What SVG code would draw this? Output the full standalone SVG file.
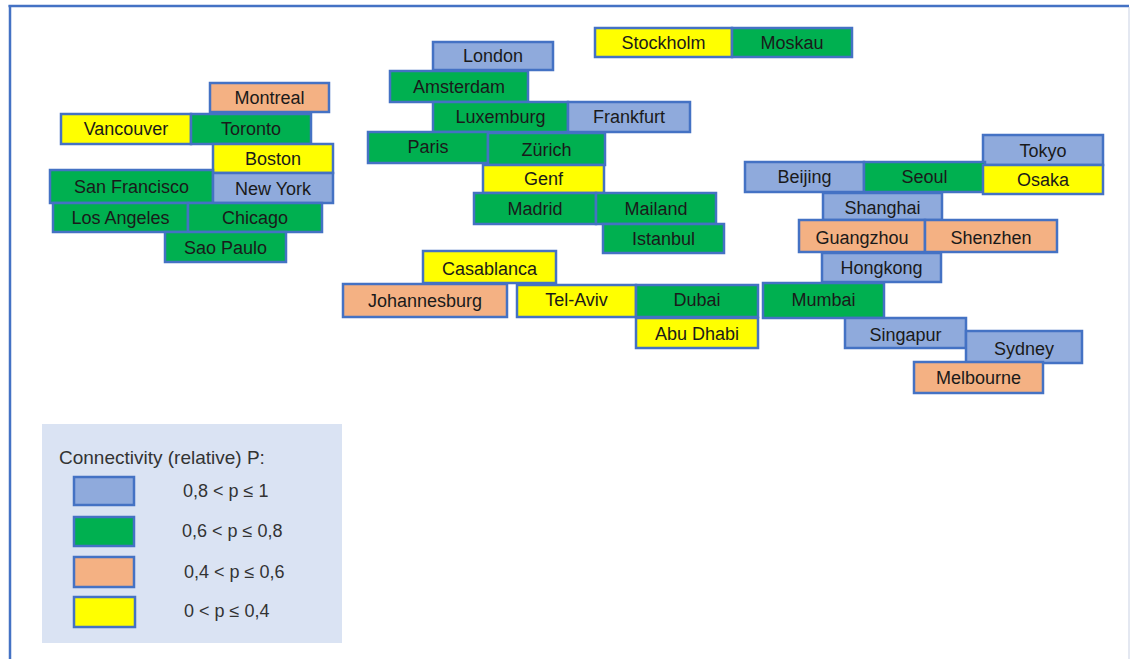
<svg xmlns="http://www.w3.org/2000/svg" width="1130" height="659" viewBox="0 0 1130 659">
  <style>
    .box { stroke: #4472c4; stroke-width: 2.5; }
    .b { fill: #8faadc; }
    .g { fill: #00b050; }
    .o { fill: #f4b183; }
    .y { fill: #ffff00; }
    text { font-family: "Liberation Sans", Arial, sans-serif; font-size: 18px; fill: #1a1a1a; }
    .c { text-anchor: middle; }
    .lg { fill: #333; }
    .lt { font-size: 19px; }
  </style>

  <rect x="0" y="0" width="1130" height="659" fill="#ffffff"/>

  <!-- frame -->
  <g id="frame">
    <line x1="8.5" y1="6" x2="1129" y2="6" stroke="#4472c4" stroke-width="2.5"/>
    <line x1="10" y1="5" x2="10" y2="659" stroke="#4472c4" stroke-width="2.5"/>
    <line x1="1129" y1="7" x2="1129" y2="659" stroke="#c9d1e3" stroke-width="1"/>
  </g>

  <!-- North America -->
  <g id="montreal"><rect class="box o" x="210" y="83" width="119" height="29"/><text class="c" x="269.5" y="104">Montreal</text></g>
  <g id="vancouver"><rect class="box y" x="61" y="114" width="130" height="30"/><text class="c" x="126" y="135">Vancouver</text></g>
  <g id="toronto"><rect class="box g" x="191" y="114" width="120" height="30"/><text class="c" x="251" y="135">Toronto</text></g>
  <g id="boston"><rect class="box y" x="213" y="144" width="120" height="29"/><text class="c" x="273" y="165">Boston</text></g>
  <g id="san-francisco"><rect class="box g" x="50" y="170" width="163" height="33"/><text class="c" x="131.5" y="193">San Francisco</text></g>
  <g id="new-york"><rect class="box b" x="213" y="173" width="120" height="30"/><text class="c" x="273" y="195">New York</text></g>
  <g id="los-angeles"><rect class="box g" x="53" y="203" width="135" height="29"/><text class="c" x="120.5" y="224">Los Angeles</text></g>
  <g id="chicago"><rect class="box g" x="188" y="203" width="134" height="29"/><text class="c" x="255" y="224">Chicago</text></g>
  <g id="sao-paulo"><rect class="box g" x="165" y="232" width="121" height="30"/><text class="c" x="225.5" y="254">Sao Paulo</text></g>

  <!-- Europe -->
  <g id="london"><rect class="box b" x="433" y="42" width="120" height="28"/><text class="c" x="493" y="62">London</text></g>
  <g id="stockholm"><rect class="box y" x="595" y="28" width="137" height="29"/><text class="c" x="663.5" y="49">Stockholm</text></g>
  <g id="moskau"><rect class="box g" x="732" y="28" width="120" height="29"/><text class="c" x="792" y="49">Moskau</text></g>
  <g id="amsterdam"><rect class="box g" x="390" y="71" width="138" height="31"/><text class="c" x="459" y="93">Amsterdam</text></g>
  <g id="luxemburg"><rect class="box g" x="433" y="102" width="135" height="30"/><text class="c" x="500.5" y="123">Luxemburg</text></g>
  <g id="frankfurt"><rect class="box b" x="568" y="102" width="122" height="30"/><text class="c" x="629" y="123">Frankfurt</text></g>
  <g id="paris"><rect class="box g" x="368" y="132" width="120" height="31"/><text class="c" x="428" y="153">Paris</text></g>
  <g id="zuerich"><rect class="box g" x="488" y="133" width="117" height="32"/><text class="c" x="546.5" y="156">Zürich</text></g>
  <g id="genf"><rect class="box y" x="483" y="165" width="121" height="28"/><text class="c" x="543.5" y="185">Genf</text></g>
  <g id="madrid"><rect class="box g" x="474" y="193" width="122" height="31"/><text class="c" x="535" y="215">Madrid</text></g>
  <g id="mailand"><rect class="box g" x="596" y="193" width="120" height="31"/><text class="c" x="656" y="215">Mailand</text></g>
  <g id="istanbul"><rect class="box g" x="603" y="224" width="121" height="29"/><text class="c" x="663.5" y="245">Istanbul</text></g>

  <!-- Africa and Middle East -->
  <g id="casablanca"><rect class="box y" x="423" y="251" width="133" height="32"/><text class="c" x="489.5" y="275">Casablanca</text></g>
  <g id="johannesburg"><rect class="box o" x="343" y="284" width="164" height="33"/><text class="c" x="425" y="307">Johannesburg</text></g>
  <g id="tel-aviv"><rect class="box y" x="517" y="285" width="119" height="32"/><text class="c" x="576.5" y="306">Tel-Aviv</text></g>
  <g id="dubai"><rect class="box g" x="636" y="285" width="122" height="32"/><text class="c" x="697" y="306">Dubai</text></g>
  <g id="abu-dhabi"><rect class="box y" x="636" y="318" width="122" height="30"/><text class="c" x="697" y="340">Abu Dhabi</text></g>

  <!-- Asia and Oceania -->
  <g id="tokyo"><rect class="box b" x="983" y="135" width="120" height="30"/><text class="c" x="1043" y="157">Tokyo</text></g>
  <g id="beijing"><rect class="box b" x="745" y="162" width="119" height="30"/><text class="c" x="804.5" y="183">Beijing</text></g>
  <g id="seoul"><rect class="box g" x="864" y="162" width="121" height="30"/><text class="c" x="924.5" y="183">Seoul</text></g>
  <g id="osaka"><rect class="box y" x="983" y="165" width="120" height="29"/><text class="c" x="1043" y="186">Osaka</text></g>
  <g id="shanghai"><rect class="box b" x="823" y="193" width="119" height="27"/><text class="c" x="882.5" y="214">Shanghai</text></g>
  <g id="guangzhou"><rect class="box o" x="799" y="220" width="126" height="32"/><text class="c" x="862" y="244">Guangzhou</text></g>
  <g id="shenzhen"><rect class="box o" x="925" y="220" width="132" height="32"/><text class="c" x="991" y="244">Shenzhen</text></g>
  <g id="hongkong"><rect class="box b" x="822" y="253" width="119" height="29"/><text class="c" x="881.5" y="274">Hongkong</text></g>
  <g id="mumbai"><rect class="box g" x="763" y="283" width="121" height="35"/><text class="c" x="823.5" y="306">Mumbai</text></g>
  <g id="singapur"><rect class="box b" x="845" y="318" width="121" height="30"/><text class="c" x="905.5" y="341">Singapur</text></g>
  <g id="sydney"><rect class="box b" x="966" y="331" width="116" height="32"/><text class="c" x="1024" y="355">Sydney</text></g>
  <g id="melbourne"><rect class="box o" x="914" y="362" width="129" height="31"/><text class="c" x="978.5" y="384">Melbourne</text></g>

  <!-- legend -->
  <g id="legend">
    <rect x="42" y="424" width="300" height="219" fill="#dae3f3"/>
    <text class="lg lt" x="59" y="464">Connectivity (relative) P:</text>
    <rect class="box b" x="74" y="477" width="60" height="28"/>
    <text class="lg" x="183" y="497">0,8 &lt; p ≤ 1</text>
    <rect class="box g" x="74" y="517" width="60" height="29"/>
    <text class="lg" x="182" y="537">0,6 &lt; p ≤ 0,8</text>
    <rect class="box o" x="74" y="557" width="60" height="30"/>
    <text class="lg" x="184" y="578">0,4 &lt; p ≤ 0,6</text>
    <rect class="box y" x="74" y="597" width="61" height="30"/>
    <text class="lg" x="184" y="617">0 &lt; p ≤ 0,4</text>
  </g>

  <g id="connectors"/>
</svg>
